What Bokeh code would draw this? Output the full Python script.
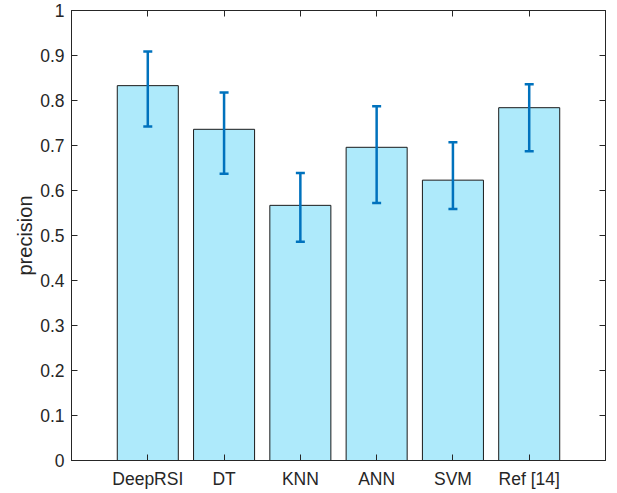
from bokeh.plotting import figure
from bokeh.models import (ColumnDataSource, Whisker, TeeHead, Range1d, FixedTicker,
                          LinearAxis, CustomJSTickFormatter)
from bokeh.embed import file_html
from bokeh.resources import INLINE

# Data
methods = ["DeepRSI", "DT", "KNN", "ANN", "SVM", "Ref [14]"]
precision = [0.833, 0.736, 0.567, 0.696, 0.623, 0.784]
err_upper = [0.909, 0.818, 0.639, 0.787, 0.707, 0.836]
err_lower = [0.742, 0.637, 0.486, 0.572, 0.559, 0.687]
y_ticks = [0, 0.1, 0.2, 0.3, 0.4, 0.5, 0.6, 0.7, 0.8, 0.9, 1.0]

xpos = list(range(1, len(methods) + 1))
src = ColumnDataSource(dict(x=xpos, top=precision, upper=err_upper, lower=err_lower))

AX = "#262626"
FONT = "Liberation Sans"

p = figure(width=617, height=493, output_backend="svg", toolbar_location=None,
           x_range=Range1d(0, 7), y_range=Range1d(0, 1),
           min_border_left=71, min_border_right=12, min_border_top=10, min_border_bottom=33)
p.grid.visible = False
p.outline_line_color = AX
p.outline_line_width = 1
p.background_fill_color = "white"
p.border_fill_color = "white"

p.vbar(x="x", top="top", bottom=0, width=0.8, source=src,
       fill_color="#AEEAFB", line_color="#1a1a1a", line_width=1)

wh = Whisker(base="x", upper="upper", lower="lower", source=src,
             line_color="#0072BD", line_width=2.5, level="overlay",
             upper_head=TeeHead(size=9, line_color="#0072BD", line_width=2.5),
             lower_head=TeeHead(size=9, line_color="#0072BD", line_width=2.5))
p.add_layout(wh)

fmt = CustomJSTickFormatter(code="return tick.toFixed(1).replace(/\\.0$/, '');")
blank = CustomJSTickFormatter(code="return '';")

# left y axis
ya = p.yaxis[0]
ya.ticker = FixedTicker(ticks=y_ticks)
ya.formatter = fmt
ya.axis_label = "precision"
ya.axis_label_text_font = FONT
ya.axis_label_text_font_size = "20px"
ya.axis_label_text_font_style = "normal"
ya.axis_label_text_color = AX
ya.axis_label_standoff = 1

# bottom x axis
xa = p.xaxis[0]
xa.ticker = FixedTicker(ticks=xpos)
xa.major_label_overrides = {i: m for i, m in zip(xpos, methods)}
xa.major_label_standoff = 8

for ax in (ya, xa):
    ax.major_label_text_font = FONT
    ax.major_label_text_font_size = "17.5px"
    ax.major_label_text_color = AX
    ax.axis_line_color = AX
    ax.major_tick_line_color = AX
    ax.major_tick_in = 6
    ax.major_tick_out = 0
    ax.minor_tick_line_color = None
ya.major_label_standoff = 7

# top and right axes (ticks only)
ta = LinearAxis(ticker=FixedTicker(ticks=xpos), formatter=blank,
                major_label_standoff=0, major_tick_in=6, major_tick_out=0,
                minor_tick_line_color=None, axis_line_color=AX, major_tick_line_color=AX)
ra = LinearAxis(ticker=FixedTicker(ticks=y_ticks), formatter=blank,
                major_label_standoff=0, major_tick_in=6, major_tick_out=0,
                minor_tick_line_color=None, axis_line_color=AX, major_tick_line_color=AX)
p.add_layout(ta, "above")
p.add_layout(ra, "right")

open("out.html", "w").write(file_html(p, INLINE))
